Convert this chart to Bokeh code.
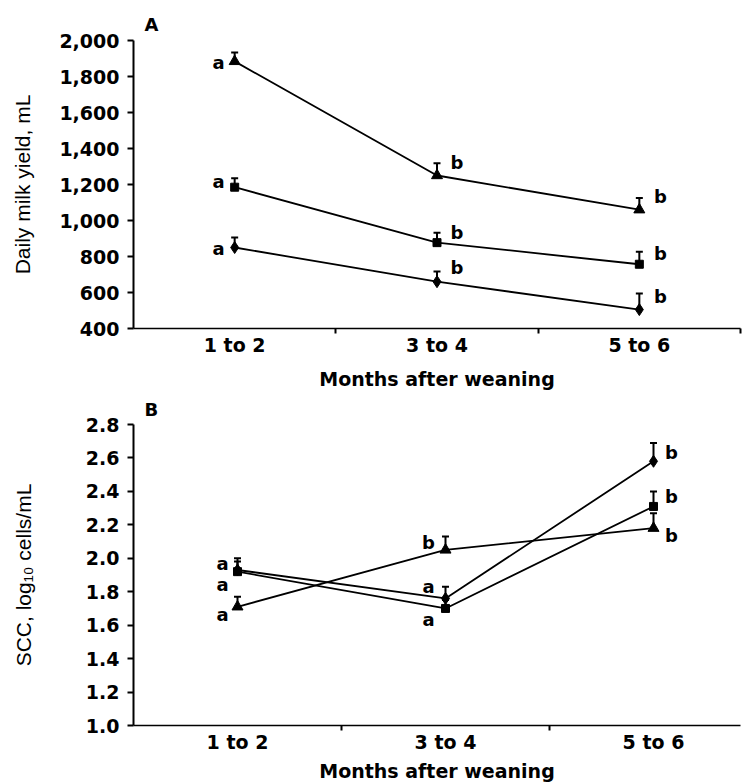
from bokeh.plotting import figure
from bokeh.layouts import column
from bokeh.models import Range1d, FixedTicker, NumeralTickFormatter, Whisker, TeeHead, ColumnDataSource
from bokeh.core.properties import value
from bokeh.embed import file_html
from bokeh.resources import INLINE

# ---------------- data ----------------
months = ["1 to 2", "3 to 4", "5 to 6"]

# Panel A: daily milk yield, mL (mean and upper SE)
milk_tri = [1884, 1250, 1060]
milk_tri_se = [50, 68, 65]
milk_sq = [1185, 877, 757]
milk_sq_se = [50, 55, 70]
milk_dia = [850, 660, 505]
milk_dia_se = [55, 57, 90]
milk_tri_let = ["a", "b", "b"]
milk_sq_let = ["a", "b", "b"]
milk_dia_let = ["a", "b", "b"]

# Panel B: SCC, log10 cells/mL
scc_tri = [1.71, 2.05, 2.18]
scc_tri_se = [0.06, 0.08, 0.09]
scc_sq = [1.92, 1.70, 2.31]
scc_sq_se = [0.06, 0.05, 0.09]
scc_dia = [1.93, 1.76, 2.58]
scc_dia_se = [0.07, 0.07, 0.11]
scc_tri_let = ["a", "b", "b"]
scc_sq_let = ["a", "a", "b"]
scc_dia_let = ["a", "a", "b"]

yticks_A = [400, 600, 800, 1000, 1200, 1400, 1600, 1800, 2000]
yticks_B = [1.0, 1.2, 1.4, 1.6, 1.8, 2.0, 2.2, 2.4, 2.6, 2.8]

# ---------------- layout / style ----------------
BOLD = "DejaVu Sans"
W = 747

# letter placement (pixel offsets dx, dy from the mean point; dy positive = up)
offs_A = {
    "tri": [(-16, -1), (20, 13), (21, 13)],
    "sq": [(-16, 6), (20, 10), (21, 11)],
    "dia": [(-16, -1), (20, 14), (21, 13)],
}
offs_B = {
    "tri": [(-15, -8), (-17, 8), (18, -7)],
    "sq": [(-15, -13), (-17, -11), (18, 10)],
    "dia": [(-15, 7), (-17, 12), (18, 9)],
}


def make_panel(title, ylabel, yr, yticks, fmt, x_end, height, top, bottom,
               series, offs, label_standoff, xtitle_standoff, title_standoff):
    p = figure(width=W, height=height, output_backend="svg", toolbar_location=None,
               x_range=Range1d(0, x_end), y_range=Range1d(*yr),
               min_border_left=133, min_border_right=7,
               min_border_top=top, min_border_bottom=bottom)
    p.outline_line_color = None
    p.grid.visible = False
    p.background_fill_color = "white"
    p.border_fill_color = "white"

    p.title.text = title
    p.title.text_font = BOLD
    p.title.text_font_style = "bold"
    p.title.text_font_size = "18px"
    p.title.text_color = "black"
    p.title.offset = 11
    p.title.standoff = title_standoff

    # x axis
    centers = [i + 0.5 for i in range(len(months))]
    xa = p.xaxis[0]
    xa.ticker = FixedTicker(ticks=centers, minor_ticks=[1, 2, 3])
    xa.major_label_overrides = {c: m for c, m in zip(centers, months)}
    xa.major_tick_line_color = None
    xa.major_tick_out = 5
    xa.major_tick_in = 0
    xa.minor_tick_out = 5
    xa.minor_tick_in = 0
    xa.minor_tick_line_width = 2
    xa.minor_tick_line_color = "black"
    xa.axis_line_width = 1.5
    xa.axis_line_color = "black"
    xa.major_label_standoff = 0
    xa.major_label_text_font = BOLD
    xa.major_label_text_font_style = "bold"
    xa.major_label_text_font_size = "19px"
    xa.major_label_text_color = "black"
    xa.axis_label = "Months after weaning"
    xa.axis_label_text_font = BOLD
    xa.axis_label_text_font_style = "bold"
    xa.axis_label_text_font_size = "19px"
    xa.axis_label_text_color = "black"
    xa.axis_label_standoff = xtitle_standoff

    # y axis
    ya = p.yaxis[0]
    ya.ticker = FixedTicker(ticks=yticks)
    ya.formatter = NumeralTickFormatter(format=fmt)
    ya.minor_tick_line_color = None
    ya.major_tick_out = 6
    ya.major_tick_in = 0
    ya.major_tick_line_width = 2
    ya.major_tick_line_color = "black"
    ya.axis_line_width = 2
    ya.axis_line_color = "black"
    ya.major_label_standoff = 8
    ya.major_label_text_font = BOLD
    ya.major_label_text_font_style = "bold"
    ya.major_label_text_font_size = "19px"
    ya.major_label_text_color = "black"
    ya.axis_label = ylabel
    ya.axis_label_text_font = "Liberation Sans"
    ya.axis_label_text_font_style = "normal"
    ya.axis_label_text_font_size = "21px"
    ya.axis_label_text_color = "black"
    ya.axis_label_standoff = label_standoff

    frame_h = height - top - bottom
    px_per_unit = frame_h / (yr[1] - yr[0])

    markers = {"tri": ("triangle", 11), "sq": ("square", 8), "dia": ("diamond", 12)}
    for key, (vals, ses, lets) in series.items():
        src = ColumnDataSource(dict(x=centers, y=vals,
                                    upper=[v + s for v, s in zip(vals, ses)]))
        p.line("x", "y", source=src, line_color="black", line_width=1.8)
        p.add_layout(Whisker(source=src, base="x", lower="y", upper="upper",
                             dimension="height", line_color="black", line_width=2,
                             lower_head=None,
                             upper_head=TeeHead(size=7, line_color="black", line_width=2)))
        m, s = markers[key]
        p.scatter("x", "y", source=src, marker=m, size=s,
                  fill_color="black", line_color="black")
        o = offs[key]
        tsrc = ColumnDataSource(dict(
            x=centers,
            y=[v + dy / px_per_unit for v, (dx, dy) in zip(vals, o)],
            dx=[dx for dx, dy in o],
            t=lets))
        p.text("x", "y", text="t", x_offset="dx", source=tsrc,
               text_font=value(BOLD), text_font_style="bold",
               text_font_size="18px", text_color="black",
               text_align="center", text_baseline="middle")
    return p


pA = make_panel("A", "Daily milk yield, mL", (400, 2000), yticks_A, "0,0", 3.0,
                392, 40, 63,
                {"tri": (milk_tri, milk_tri_se, milk_tri_let),
                 "sq": (milk_sq, milk_sq_se, milk_sq_let),
                 "dia": (milk_dia, milk_dia_se, milk_dia_let)},
                offs_A, 22, 9, 12)

pB = make_panel("B", "SCC, log\u2081\u2080 cells/mL", (1.0, 2.8), yticks_B, "0.0",
                607 / 208.0, 392, 30, 57,
                {"tri": (scc_tri, scc_tri_se, scc_tri_let),
                 "sq": (scc_sq, scc_sq_se, scc_sq_let),
                 "dia": (scc_dia, scc_dia_se, scc_dia_let)},
                offs_B, 48, 4, 9)

layout = column(pA, pB, spacing=0)
open("out.html", "w").write(file_html(layout, INLINE))
